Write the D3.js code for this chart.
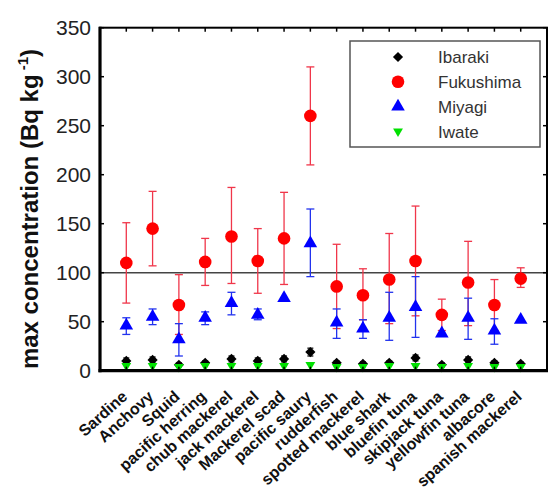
<!DOCTYPE html>
<html><head><meta charset="utf-8">
<script src="https://cdn.jsdelivr.net/npm/d3@7"></script>
<style>body{margin:0;background:#fff}svg{display:block}</style>
</head><body>
<script>
const categories = ["Sardine","Anchovy","Squid","pacific herring","chub mackerel","jack mackerel","Mackerel scad","pacific saury","rudderfish","spotted mackerel","blue shark","bluefin tuna","skipjack tuna","yellowfin tuna","albacore","spanish mackerel"];
const ibaraki     = [10,11,6,8,12,10,12,19,8,7,8,13,6,11,8,7];
const ibarakiLo   = [7,8,4,6,9,7,9,15,6,5,6,10,4,8,6,5];
const ibarakiHi   = [13,14,8,10,15,13,15,23,10,9,10,16,8,14,10,9];
const fukushima   = [110,145,67,111,137,112,135,260,86,77,93,112,57,90,67,94];
const fukushimaLo = [69,107,37,87,89,79,88,210,43,52,48,56,41,46,41,85];
const fukushimaHi = [151,183,98,135,187,145,182,310,129,104,140,168,73,132,93,105];
const miyagi      = [46,55,32,54,69,57,74,130,49,43,54,65,38,54,41,52];
const miyagiLo    = [37,47,15,47,57,52,74,96,33,33,31,34,38,32,27,52];
const miyagiHi    = [54,63,48,60,80,63,74,165,63,52,80,96,38,74,53,52];
const iwate       = [5,5,4,5,5,5,5,6,4,4,5,5,4,5,4,4];
const yTicks = [0,50,100,150,200,250,300,350];
const seriesNames = ["Ibaraki","Fukushima","Miyagi","Iwate"];

const W = 550, H = 493;
const svg = d3.select("body").append("svg").attr("width", W).attr("height", H);
const x = d3.scaleLinear().domain([0, 17]).range([100, 547]);
const y = d3.scaleLinear().domain([0, 350]).range([370.7, 27.7]);
const font = "Liberation Sans, Arial, Helvetica, sans-serif";

// reference line at 100
svg.append("line").attr("x1", x(0)).attr("x2", x(17)).attr("y1", y(100)).attr("y2", y(100))
  .attr("stroke", "#444").attr("stroke-width", 1.5);

function errorBars(vals, lo, hi, color, cap, sw) {
  const g = svg.append("g").attr("stroke", color).attr("stroke-width", sw).attr("fill", "none");
  vals.forEach((v, i) => {
    const cx = x(i + 1);
    if (hi[i] - lo[i] < 0.5) return;
    g.append("line").attr("x1", cx).attr("x2", cx).attr("y1", y(lo[i])).attr("y2", y(hi[i]));
    g.append("line").attr("x1", cx - cap).attr("x2", cx + cap).attr("y1", y(lo[i])).attr("y2", y(lo[i]));
    g.append("line").attr("x1", cx - cap).attr("x2", cx + cap).attr("y1", y(hi[i])).attr("y2", y(hi[i]));
  });
}
function markers(vals, symType, size, color, rot) {
  const sym = d3.symbol().type(symType).size(size);
  svg.append("g").selectAll("path").data(vals).join("path")
    .attr("d", sym)
    .attr("transform", (d, i) => `translate(${x(i + 1)},${y(d)}) rotate(${rot || 0})`)
    .attr("fill", color);
}

// Ibaraki
errorBars(ibaraki, ibarakiLo, ibarakiHi, "#000", 3, 1.2);
markers(ibaraki, d3.symbolSquare, 52, "#000", 45);
// Fukushima
errorBars(fukushima, fukushimaLo, fukushimaHi, "#f0364a", 4, 1.3);
markers(fukushima, d3.symbolCircle, 125, "#ff0000");
// Miyagi
errorBars(miyagi, miyagiLo, miyagiHi, "#2233ee", 4, 1.3);
markers(miyagi, d3.symbolTriangle, 80, "#0000ff");
// Iwate
markers(iwate, d3.symbolTriangle, 42, "#00e000", 180);

// frame
svg.append("rect").attr("x", x(0)).attr("y", y(350)).attr("width", x(17) - x(0)).attr("height", y(0) - y(350))
  .attr("fill", "none").attr("stroke", "#000").attr("stroke-width", 2);
svg.append("line").attr("x1", x(0)).attr("x2", x(0)).attr("y1", y(350) - 1).attr("y2", y(0) + 1.5).attr("stroke", "#000").attr("stroke-width", 3.2);
svg.append("line").attr("x1", x(0) - 1.5).attr("x2", x(17) + 1).attr("y1", y(0)).attr("y2", y(0)).attr("stroke", "#000").attr("stroke-width", 3.2);

// ticks
const tk = svg.append("g").attr("stroke", "#000").attr("stroke-width", 1.5);
yTicks.forEach(t => {
  tk.append("line").attr("x1", x(0)).attr("x2", x(0) + 4).attr("y1", y(t)).attr("y2", y(t));
  tk.append("line").attr("x1", x(17)).attr("x2", x(17) - 4).attr("y1", y(t)).attr("y2", y(t));
});
categories.forEach((c, i) => {
  tk.append("line").attr("x1", x(i + 1)).attr("x2", x(i + 1)).attr("y1", y(350)).attr("y2", y(350) + 4);
  tk.append("line").attr("x1", x(i + 1)).attr("x2", x(i + 1)).attr("y1", y(0)).attr("y2", y(0) - 4);
});

// y tick labels
svg.append("g").selectAll("text").data(yTicks).join("text")
  .attr("x", 91).attr("y", d => y(d)).attr("dy", "0.36em")
  .attr("text-anchor", "end").attr("font-family", font).attr("font-size", 21).attr("fill", "#222")
  .text(d => d);

// x tick labels
svg.append("g").selectAll("text").data(categories).join("text")
  .attr("transform", (d, i) => `translate(${x(i + 1) + 2},${398}) rotate(-42)`)
  .attr("text-anchor", "end").attr("font-family", font).attr("font-size", 16).attr("font-weight", "bold")
  .attr("fill", "#111")
  .text(d => d);

// y axis title
const yt = svg.append("text")
  .attr("transform", `translate(38,${209}) rotate(-90)`)
  .attr("text-anchor", "middle").attr("font-family", font).attr("font-size", 24).attr("font-weight", "bold")
  .attr("fill", "#111");
yt.append("tspan").text("max concentration (Bq kg");
yt.append("tspan").attr("font-size", 15).attr("dy", -10).text(" -1");
yt.append("tspan").attr("dy", 10).text(")");

// legend
const lg = svg.append("g");
lg.append("rect").attr("x", 350).attr("y", 41).attr("width", 190).attr("height", 106)
  .attr("fill", "#fff").attr("stroke", "#555").attr("stroke-width", 1.5);
const legSym = [
  {t: d3.symbolSquare, s: 52, c: "#000", r: 45},
  {t: d3.symbolCircle, s: 125, c: "#ff0000", r: 0},
  {t: d3.symbolTriangle, s: 80, c: "#0000ff", r: 0},
  {t: d3.symbolTriangle, s: 42, c: "#00e000", r: 180}
];
seriesNames.forEach((n, i) => {
  const yy = 57 + i * 24.8;
  lg.append("path").attr("d", d3.symbol().type(legSym[i].t).size(legSym[i].s)())
    .attr("transform", `translate(398,${yy}) rotate(${legSym[i].r})`).attr("fill", legSym[i].c);
  lg.append("text").attr("x", 438).attr("y", yy).attr("dy", "0.36em")
    .attr("font-family", font).attr("font-size", 17).attr("fill", "#333").text(n);
});
</script>
</body></html>
